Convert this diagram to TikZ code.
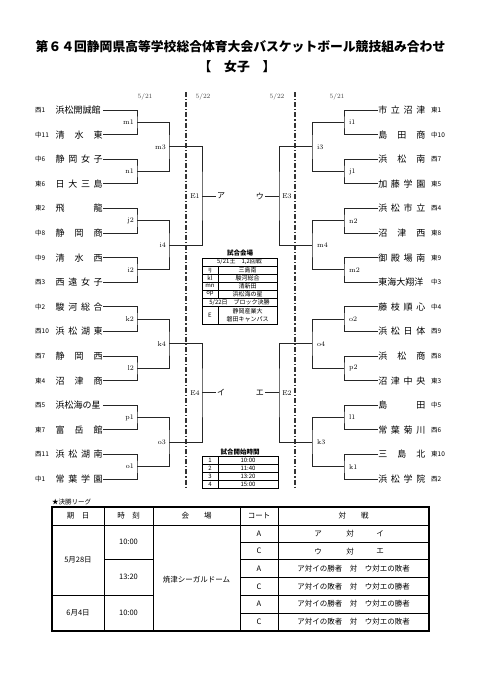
\documentclass[tikz,border=0pt]{standalone}
\usepackage{fontspec}
\newfontfamily\jp{Noto Sans CJK JP}
\newcommand{\tbox}[1]{\makebox[47pt][s]{#1}}
\tikzset{
  bline/.style={line width=0.9pt, black!85},
  dline/.style={line width=1.1pt, black!80, dash pattern=on 5pt off 2pt on 1.2pt off 2pt},
  tname/.style={inner sep=0pt, font=\jp\fontsize{9}{10}\selectfont},
  seed/.style={inner sep=0pt, font=\jp\fontsize{6.5}{7}\selectfont},
  mlab/.style={inner sep=0pt, font=\fontsize{7}{8}\selectfont},
  dlab/.style={inner sep=0pt, font=\fontsize{6.5}{7}\selectfont, text=black!75},
  fin/.style={inner sep=1pt, font=\jp\fontsize{8}{9}\selectfont},
  tcell/.style={inner sep=0pt, font=\jp\fontsize{6}{7.5}\selectfont},
  ttl/.style={inner sep=0pt, font=\jp\bfseries\fontsize{6.5}{7}\selectfont},
  bcell/.style={inner sep=0pt, font=\jp\fontsize{7.5}{9}\selectfont},
}
\begin{document}
\begin{tikzpicture}[x=1pt, y=-1pt]
    \useasboundingbox (0,0) rectangle (481,680);
    \fill[white] (0,0) rectangle (481,680);

    % title
    \node[font=\jp\bfseries\fontsize{12.8}{14}\selectfont] (title) at (240.5,47) {第６４回静岡県高等学校総合体育大会バスケットボール競技組み合わせ};
    \node[font=\jp\bfseries\fontsize{12.8}{14}\selectfont] (sub) at (237,67) {【　女子　】};

    % days
    \node[dlab] (dl1) at (145,97) {5/21};
    \node[dlab] (dl2) at (203,97) {5/22};
    \node[dlab] (dr2) at (277,97) {5/22};
    \node[dlab] (dr1) at (337,97) {5/21};
    \draw[dline] (186,92) -- (186,488);
    \draw[dline] (295,92) -- (295,488);

    % left teams
    \foreach \s/\n [count=\i] in {西1/浜松開誠館, 中11/清 水 東, 中6/静 岡 女 子, 東6/日 大 三 島,
        東2/飛 龍, 中8/静 岡 商, 中9/清 水 西, 西3/西 遠 女 子, 中2/駿 河 総 合, 西10/浜 松 湖 東,
        西7/静 岡 西, 東4/沼 津 商, 西5/浜松海の星, 東7/富 岳 館, 西11/浜 松 湖 南, 中1/常 葉 学 園} {
        \node[seed, anchor=west] (ls\i) at (35,{110+(\i-1)*24.6}) {\s};
        \node[tname, anchor=west] (lt\i) at (55.5,{110+(\i-1)*24.6}) {\tbox{\n}};
    }

    % right teams
    \foreach \s/\n [count=\i] in {東1/市 立 沼 津, 中10/島 田 商, 西7/浜 松 南, 東5/加 藤 学 園,
        西4/浜 松 市 立, 東8/沼 津 西, 東9/御 殿 場 南, 中3/東海大翔洋, 中4/藤 枝 順 心, 西9/浜 松 日 体,
        西8/浜 松 商, 東3/沼 津 中 央, 中5/島 田, 西6/常 葉 菊 川, 東10/三 島 北, 西2/浜 松 学 院} {
        \node[seed, anchor=west] (rs\i) at (431,{110+(\i-1)*24.6}) {\s};
        \node[tname, anchor=east] (rt\i) at (425.5,{110+(\i-1)*24.6}) {\tbox{\n}};
    }

    % first round
    \foreach \ll/\rl [count=\m] in {m1/i1, n1/j1, j2/n2, i2/m2, k2/o2, l2/p2, p1/l1, o1/k1} {
        \pgfmathtruncatemacro\a{2*\m-1}
        \pgfmathtruncatemacro\b{2*\m}
        \coordinate (lm\m) at (137,{110+(2*\m-1.5)*24.6});
        \coordinate (rm\m) at (344,{110+(2*\m-1.5)*24.6});
        \draw[bline] (lt\a.east) -| (lm\m) |- (lt\b.east);
        \draw[bline] (rt\a.west) -| (rm\m) |- (rt\b.west);
        \node[mlab, anchor=east] (lml\m) at ([xshift=-3pt]lm\m) {\ll};
        \node[mlab, anchor=west] (rml\m) at ([xshift=5pt]rm\m) {\rl};
    }

    % second round
    \foreach \ll/\rl [count=\m] in {m3/i3, i4/m4, k4/o4, o3/k3} {
        \pgfmathtruncatemacro\a{2*\m-1}
        \pgfmathtruncatemacro\b{2*\m}
        \coordinate (lq\m) at (169,{110+(4*\m-2.5)*24.6});
        \coordinate (rq\m) at (312,{110+(4*\m-2.5)*24.6});
        \draw[bline] (lm\a) -| (lq\m) |- (lm\b);
        \draw[bline] (rm\a) -| (rq\m) |- (rm\b);
        \node[mlab, anchor=east] (lql\m) at ([xshift=-3pt]lq\m) {\ll};
        \node[mlab, anchor=west] (rql\m) at ([xshift=5pt]rq\m) {\rl};
    }

    % block finals
    \foreach \ll/\lf/\rl/\rf [count=\m] in {E1/ア/E3/ウ, E4/イ/E2/エ} {
        \pgfmathtruncatemacro\a{2*\m-1}
        \pgfmathtruncatemacro\b{2*\m}
        \coordinate (lh\m) at (202,{110+(8*\m-4.5)*24.6});
        \coordinate (rh\m) at (279,{110+(8*\m-4.5)*24.6});
        \draw[bline] (lq\a) -| (lh\m) |- (lq\b);
        \draw[bline] (rq\a) -| (rh\m) |- (rq\b);
        \node[mlab] (lhl\m) at (195,{110+(8*\m-4.5)*24.6}) {\ll};
        \node[mlab] (rhl\m) at (287,{110+(8*\m-4.5)*24.6}) {\rl};
        \node[fin, anchor=west] (lf\m) at (216,{110+(8*\m-4.5)*24.6}) {\lf};
        \node[fin, anchor=east] (rf\m) at (265,{110+(8*\m-4.5)*24.6}) {\rf};
        \draw[bline] (lh\m) -- (lf\m.west);
        \draw[bline] (rh\m) -- (rf\m.east);
    }

    % venues
    \node[ttl] (vt) at (240,253) {試合会場};
    \draw[line width=1pt] (202,258) rectangle (277,324);
    \foreach \y in {266,274,282,290,298,306}
        \draw[line width=0.6pt] (202,\y) -- (277,\y);
    \draw[line width=0.6pt] (218,266) -- (218,298) (218,306) -- (218,324);
    \node[tcell] (v0) at (239.5,262) {5/21土\quad 1,2回戦};
    \foreach \k/\v [count=\i] in {ij/三島南, kl/駿河総合, mn/清新田, op/浜松海の星} {
        \node[tcell] (vk\i) at (210,{262+8*\i}) {\k};
        \node[tcell] (vv\i) at (247.5,{262+8*\i}) {\v};
    }
    \node[tcell] (v5) at (239.5,302) {5/22日\quad ブロック決勝};
    \node[tcell] (vk5) at (210,315) {E};
    \node[tcell, align=center] (vv5) at (247.5,315) {静岡産業大\\磐田キャンパス};

    % start times
    \node[ttl] (st) at (240,452) {試合開始時間};
    \draw[line width=1pt] (202,456) rectangle (278,488);
    \foreach \y in {464,472,480}
        \draw[line width=0.6pt] (202,\y) -- (278,\y);
    \draw[line width=0.6pt] (218,456) -- (218,488);
    \foreach \t [count=\i] in {10:00, 11:40, 13:20, 15:00} {
        \node[tcell] (sk\i) at (210,{452+8*\i}) {\i};
        \node[tcell] (sv\i) at (248,{452+8*\i}) {\t};
    }

    % final league
    \node[ttl, anchor=west, font=\jp\fontsize{6.5}{7}\selectfont] (fl) at (52,502) {★決勝リーグ};
    \draw[line width=1.4pt] (52,507) rectangle (429,631);
    \draw[line width=1pt] (52,525) -- (429,525);
    \foreach \x in {104,153,240,278}
        \draw[line width=0.8pt] (\x,507) -- (\x,631);
    \foreach \y in {542,559,577,595,613}
        \draw[line width=0.8pt] (240,\y) -- (429,\y);
    \draw[line width=0.8pt] (104,559) -- (153,559) (52,595) -- (153,595);

    \node[bcell] (h1) at (78,516) {期　日};
    \node[bcell] (h2) at (128.5,516) {時　刻};
    \node[bcell] (h3) at (196.5,516) {会　　場};
    \node[bcell] (h4) at (259,516) {コート};
    \node[bcell] (h5) at (353.5,516) {対　　戦};
    \node[bcell] (day1) at (78,560) {5月28日};
    \node[bcell] (day2) at (78,613) {6月4日};
    \node[bcell] (tm1) at (128.5,542) {10:00};
    \node[bcell] (tm2) at (128.5,577) {13:20};
    \node[bcell] (tm3) at (128.5,613) {10:00};
    \node[bcell] (hall) at (196.5,580) {焼津シーガルドーム};
    \foreach \c [count=\i] in {A,C,A,C,A,C}
        \node[bcell] (ct\i) at (259,{516+17.6*\i}) {\c};
    \node[bcell] (g1a) at (318,533.6) {ア};
    \node[bcell] (g1b) at (350,533.6) {対};
    \node[bcell] (g1c) at (380,533.6) {イ};
    \node[bcell] (g2a) at (318,551.2) {ウ};
    \node[bcell] (g2b) at (350,551.2) {対};
    \node[bcell] (g2c) at (380,551.2) {エ};
    \foreach \g [count=\i from 3] in {ア対イの勝者\quad 対\quad ウ対エの敗者, ア対イの敗者\quad 対\quad ウ対エの勝者,
        ア対イの勝者\quad 対\quad ウ対エの勝者, ア対イの敗者\quad 対\quad ウ対エの敗者}
        \node[bcell] (g\i) at (353.5,{516+17.6*\i}) {\g};
\end{tikzpicture}
\end{document}
